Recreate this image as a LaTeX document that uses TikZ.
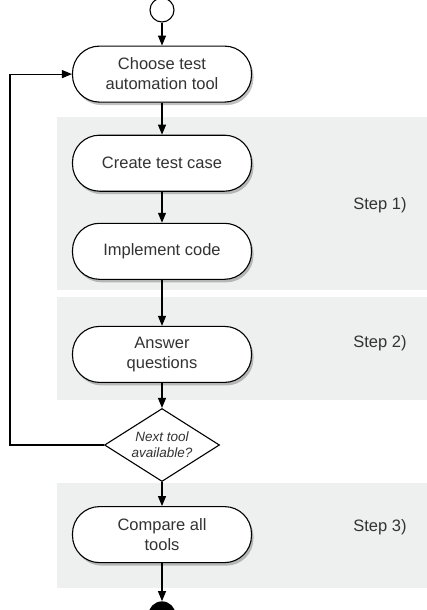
\documentclass[tikz,border=0pt]{standalone}
\usepackage{fontspec}
\setmainfont{Liberation Sans}
\usetikzlibrary{positioning,arrows.meta,shapes.geometric,shadows,backgrounds}
\definecolor{bandgray}{HTML}{EEEFEF}

\begin{document}
\begin{tikzpicture}[
  x=1pt, y=-1pt,
  act/.style={draw, rounded corners=27pt, fill=white, minimum width=179pt, minimum height=56pt,
    align=center, line width=1.1pt, text=black!80, font=\fontsize{16.5}{20}\selectfont,
    drop shadow={shadow xshift=2pt, shadow yshift=-3pt, opacity=0.35, fill=black!70}},
  cond/.style={draw, diamond, fill=white, aspect=1.6, inner sep=0pt, minimum width=115pt,
    minimum height=73pt, align=center, line width=1.1pt, text=black!80,
    font=\fontsize{13.5}{16}\selectfont\itshape},
  startc/.style={draw, circle, fill=white, minimum size=24pt, line width=1.1pt},
  stopc/.style={circle, fill=black, minimum size=27pt},
  arr/.style={-{Triangle[length=10pt,width=8pt]}, line width=1.1pt},
  steplab/.style={font=\fontsize{16.5}{20}\selectfont, text=black!80},
  band/.style={fill=bandgray}
]
  \useasboundingbox (0,0) rectangle (427,610);

  \node[startc] (start) at (162,10) {};
  \node[act, below=23pt of start] (choose) {Choose test\\automation tool};
  \node[act, below=32pt of choose] (create) {Create test case};
  \node[act, below=31pt of create] (impl) {Implement code};
  \node[act, below=46pt of impl] (answer) {Answer\\questions};
  \node[cond, below=25pt of answer] (next) {Next tool\\available?};
  \node[act, below=24pt of next] (compare) {Compare all\\tools};
  \node[stopc, below=38pt of compare] (stop) {};

  \node[steplab] (step1) at (380,205) {Step 1)};
  \node[steplab] (step2) at (380,343) {Step 2)};
  \node[steplab] (step3) at (380,527) {Step 3)};

  \coordinate (loopx) at (10,0);

  \draw[arr] (start) -- (choose);
  \draw[arr] (choose) -- (create);
  \draw[arr] (create) -- (impl);
  \draw[arr] (impl) -- (answer);
  \draw[arr] (answer) -- (next);
  \draw[arr] (next) -- (compare);
  \draw[arr] (compare) -- (stop);
  \draw[arr] (next.west) -- (next.west -| loopx) |- (choose.west);

  % step bands
  \begin{scope}[on background layer]
    \fill[band] (57,117) rectangle (427,290);
    \fill[band] (57,297) rectangle (427,400);
    \fill[band] (57,483) rectangle (427,588);
  \end{scope}
\end{tikzpicture}
\end{document}
